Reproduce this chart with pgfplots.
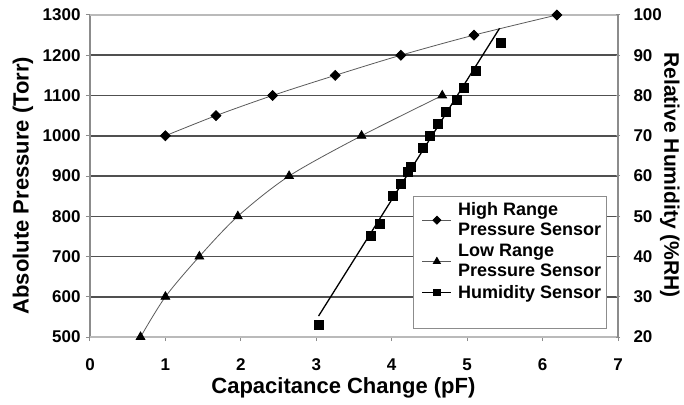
\documentclass[border=0pt]{standalone}
\usepackage{fontspec}
\setmainfont{Liberation Sans}
\usepackage{pgfplots}
\pgfplotsset{compat=1.18}

\definecolor{gridc}{RGB}{80,80,80}
\definecolor{axisc}{RGB}{140,140,140}
\definecolor{linec}{RGB}{90,90,90}

\pgfplotsset{
  common/.style={
    at={(0pt,0pt)}, anchor=south west,
    scale only axis, width=528pt, height=322pt,
    xmin=0, xmax=7, clip=false,
    axis line style={axisc, line width=1.2pt},
    tick style={axisc, line width=1pt},
    major tick length=4pt,
    ticklabel style={font=\fontsize{17}{20}\selectfont\bfseries},
    /pgf/number format/assume math mode=true,
    /pgf/number format/set thousands separator={},
  },
}

\begin{document}
\begin{tikzpicture}
\useasboundingbox (-90pt,-67pt) rectangle (594pt,337pt);

\begin{axis}[
  common,
  ymin=500, ymax=1300,
  xtick={0,...,7},
  ytick={600,700,...,1200},
  extra y ticks={500,1300},
  extra y tick style={grid style={axisc!60, line width=1.5pt}},
  axis x line*=bottom, axis y line*=left,
  tick align=outside,
  ymajorgrids, grid style={gridc, line width=1.5pt},
  xticklabel style={yshift=-14pt},
  yticklabel style={xshift=-2pt},
  xlabel={Capacitance Change (pF)},
  ylabel={Absolute Pressure (Torr)},
  every axis x label/.style={at={(axis description cs:0.48,-0.158)}, anchor=center,
    font=\fontsize{22}{26}\selectfont\bfseries},
  every axis y label/.style={at={(axis description cs:-0.127,0.47)}, anchor=center, rotate=90,
    font=\fontsize{22}{26}\selectfont\bfseries},
]
% High Range Pressure Sensor
\addplot[smooth, linec, line width=0.8pt, mark=square*, mark size=3.5pt,
  mark options={rotate=45, black, solid}] coordinates {
  (1.00,1000) (1.67,1050) (2.42,1100) (3.25,1150) (4.12,1200) (5.09,1250) (6.19,1300)
};
% Low Range Pressure Sensor
\addplot[smooth, linec, line width=0.8pt, mark=triangle*, mark size=5pt,
  mark options={black, solid}] coordinates {
  (0.67,500) (1.00,600) (1.45,700) (1.96,800) (2.64,900) (3.60,1000) (4.67,1100)
};
\end{axis}

\begin{axis}[
  common,
  ymin=20, ymax=100,
  ytick={20,30,...,100},
  axis x line=none, axis y line*=right,
  tick align=center,
  yticklabel style={xshift=10pt},
  ylabel={Relative Humidity (\%RH)},
  every axis y label/.style={at={(axis description cs:1.098,0.503)}, anchor=center, rotate=-90,
    font=\fontsize{21}{25}\selectfont\bfseries},
  legend style={at={(rel axis cs:0.612,0.025)}, anchor=south west,
    draw=axisc, line width=1.2pt, fill=white,
    inner xsep=3pt, inner ysep=4pt,
    font=\fontsize{18}{20}\selectfont\bfseries,
    nodes={align=left}, row sep=3pt},
  legend cell align=left,
  legend image code/.code={
    \path (-5pt,0pt) (33pt,0pt);
    \draw[#1, mark repeat=2, mark phase=2]
    plot coordinates {(0pt,0pt) (14.5pt,0pt) (29pt,0pt)};},
]
% Humidity Sensor trend line
\addplot[black, line width=1.3pt, forget plot] coordinates {(3.03,25.2) (5.43,96.7)};
% Humidity Sensor measurements
\addplot[only marks, mark=square*, mark size=4.5pt, black, forget plot] coordinates {
  (3.03,23.0) (3.72,45.1) (3.84,48.2) (4.01,55.0) (4.12,58.0) (4.21,61.0) (4.25,62.2)
  (4.41,67.1) (4.50,70.1) (4.61,73.1) (4.72,76.0) (4.86,79.0) (4.95,81.9) (5.12,86.2)
  (5.44,93.1)
};
\addlegendimage{linec, line width=0.8pt, mark=square*, mark size=2.8pt, mark options={rotate=45, black}}
\addlegendentry{High Range\\Pressure Sensor}
\addlegendimage{linec, line width=0.8pt, mark=triangle*, mark size=4pt, mark options={black}}
\addlegendentry{Low Range\\Pressure Sensor}
\addlegendimage{black, line width=1.3pt, mark=square*, mark size=3.2pt}
\addlegendentry{Humidity Sensor}
\addlegendimage{empty legend}
\addlegendentry{\strut}
\end{axis}
\end{tikzpicture}
\end{document}
